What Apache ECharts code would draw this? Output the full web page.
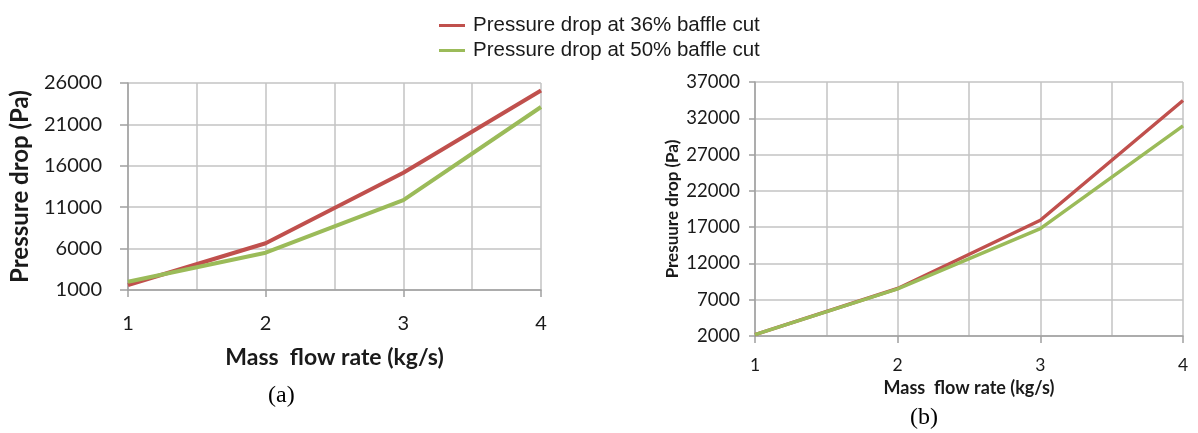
<!DOCTYPE html>
<html>
<head>
<meta charset="utf-8">
<script src="https://cdn.jsdelivr.net/npm/echarts@6/dist/echarts.min.js"></script>
<style>
  html, body { margin: 0; padding: 0; background: #ffffff; }
  #chart { width: 1198px; height: 433px; }
</style>
</head>
<body>
<div id="chart"></div>
<script>
// Mass flow rate (kg/s) shared by both panels
const massFlow = [1, 2, 3, 4];

// Panel (a): pressure drop (Pa)
const dropA36 = [1600, 6650, 15150, 25100];
const dropA50 = [2000, 5500, 11850, 23100];

// Panel (b): pressure drop (Pa)
const dropB36 = [2200, 8550, 17950, 34450];
const dropB50 = [2200, 8500, 16800, 30950];

// Axis ranges and tick steps
const xRange = [1, 4];
const yRangeA = [1000, 26000];
const yRangeB = [2000, 37000];
const yStep = 5000;

const seriesNames = ['Pressure drop at 36% baffle cut', 'Pressure drop at 50% baffle cut'];
const seriesColors = ['#C0504D', '#9BBB59'];

const pairs = (xs, ys) => xs.map((x, i) => [x, ys[i]]);

const labelFont = 'Lato, "Open Sans", sans-serif';
const gridColor = '#c3c3c3';
const axisColor = '#a0a0a0';
const textColor = '#1a1a1a';

function xAxisFor(gridIndex, fs, labelMargin, name, nameSize, nameGap) {
  return {
    type: 'value', gridIndex, min: xRange[0], max: xRange[1], interval: 1,
    axisLine: { show: true, lineStyle: { color: axisColor, width: 1.5 } },
    axisTick: { show: true, length: 7, lineStyle: { color: axisColor, width: 1.5 } },
    axisLabel: { fontSize: fs, fontFamily: labelFont, color: textColor, margin: labelMargin,
                 formatter: v => String(v) },
    splitLine: { show: true, lineStyle: { color: gridColor, width: 1.5 } },
    minorTick: { show: false, splitNumber: 2 },
    minorSplitLine: { show: true, lineStyle: { color: gridColor, width: 1.5 } },
    name, nameLocation: 'middle', nameGap,
    nameTextStyle: { fontFamily: labelFont, fontWeight: 'bold', fontSize: nameSize, color: textColor }
  };
}

function yAxisFor(gridIndex, range, fs, labelMargin, tickLen, name, nameSize, nameGap) {
  return {
    type: 'value', gridIndex, min: range[0], max: range[1], interval: yStep,
    axisLine: { show: true, lineStyle: { color: axisColor, width: 1.5 } },
    axisTick: { show: true, length: tickLen, lineStyle: { color: axisColor, width: 1.5 } },
    axisLabel: { fontSize: fs, fontFamily: labelFont, color: textColor, margin: labelMargin,
                 formatter: v => String(v) },
    splitLine: { show: true, lineStyle: { color: gridColor, width: 1.5 } },
    name, nameLocation: 'middle', nameGap, nameRotate: 90,
    nameTextStyle: { fontFamily: labelFont, fontWeight: 'bold', fontSize: nameSize, color: textColor }
  };
}

function lineSeries(idx, gridIndex, data, width) {
  return {
    name: seriesNames[idx], type: 'line', xAxisIndex: gridIndex, yAxisIndex: gridIndex,
    data, showSymbol: false, symbol: 'none', smooth: false, animation: false,
    lineStyle: { color: seriesColors[idx], width },
    itemStyle: { color: seriesColors[idx] }
  };
}

const chart = echarts.init(document.getElementById('chart'), null, { renderer: 'canvas' });

chart.setOption({
  backgroundColor: '#ffffff',
  animation: false,
  legend: {
    orient: 'vertical', left: 434, top: 10,
    icon: 'rect', itemWidth: 26, itemHeight: 3, itemGap: 4,
    data: seriesNames,
    textStyle: { fontFamily: '"Liberation Sans", Arial, sans-serif', fontSize: 20.5, color: textColor,
                 padding: [0, 0, 0, 3] }
  },
  grid: [
    { left: 128, right: 657, top: 83, bottom: 143 },
    { left: 755, right: 15, top: 82, bottom: 97 }
  ],
  xAxis: [
    xAxisFor(0, 20, 24, 'Mass  flow rate (kg/s)', 23, 56),
    xAxisFor(1, 17.5, 20, 'Mass  flow rate (kg/s)', 18, 42)
  ],
  yAxis: [
    yAxisFor(0, yRangeA, 20, 26, 8, 'Pressure drop (Pa)', 24, 96),
    yAxisFor(1, yRangeB, 18.5, 15, 6, 'Presuure drop (Pa)', 17, 74)
  ],
  series: [
    lineSeries(0, 0, pairs(massFlow, dropA36), 4),
    lineSeries(1, 0, pairs(massFlow, dropA50), 4),
    lineSeries(0, 1, pairs(massFlow, dropB36), 3.5),
    lineSeries(1, 1, pairs(massFlow, dropB50), 3.5)
  ],
  graphic: [
    { type: 'text', left: 268, top: 384,
      style: { text: '(a)', font: '24px "Liberation Serif", "Times New Roman", serif', fill: '#000' } },
    { type: 'text', left: 910, top: 406,
      style: { text: '(b)', font: '24px "Liberation Serif", "Times New Roman", serif', fill: '#000' } }
  ]
});
</script>
</body>
</html>
